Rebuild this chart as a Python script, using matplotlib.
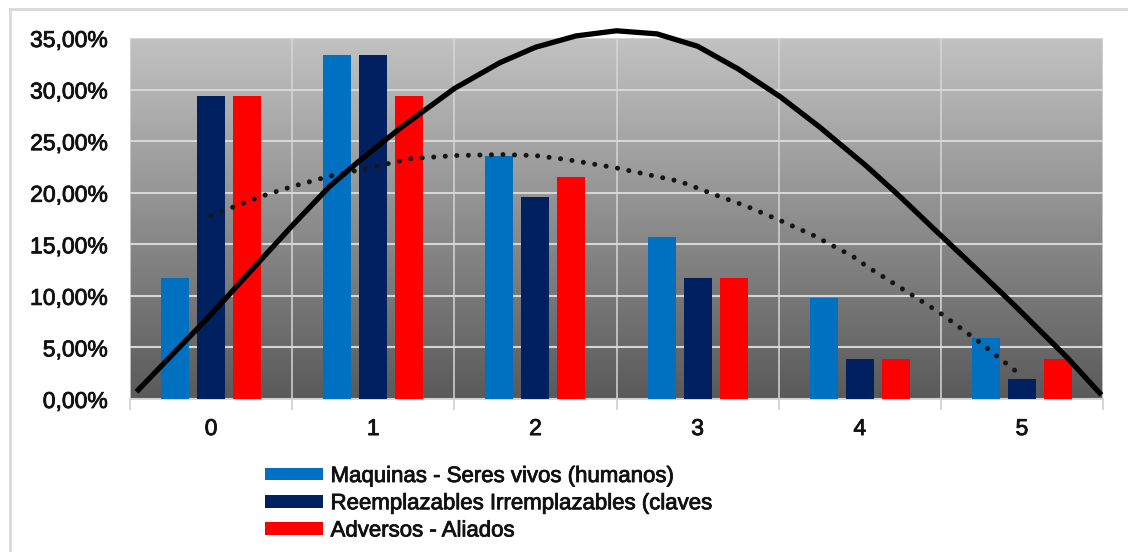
import numpy as np
import matplotlib.pyplot as plt
import matplotlib.patheffects as pe
from matplotlib.lines import Line2D
from matplotlib.colors import LinearSegmentedColormap
from matplotlib.ticker import FuncFormatter, FixedLocator

plt.rcParams['font.family'] = ['Liberation Sans', 'DejaVu Sans']

# datos
categorias = [0, 1, 2, 3, 4, 5]
maquinas = [11.76, 33.33, 23.53, 15.69, 9.80, 5.88]
reemplazables = [29.41, 33.33, 19.61, 11.76, 3.92, 1.96]
adversos = [29.41, 29.41, 21.57, 11.76, 3.92, 3.92]
series_nombres = ["Maquinas - Seres vivos (humanos)",
                  "Reemplazables Irremplazables (claves",
                  "Adversos - Aliados"]
colores = ["#0070c0", "#002060", "#ff0000"]

# curva solida
curva_x = [-0.46, 0.0, 0.5, 0.73, 0.9, 1.17, 1.5, 1.78, 2.0, 2.25, 2.5,
           2.75, 3.0, 3.25, 3.51, 3.75, 4.04, 4.25, 4.45, 4.7, 4.94, 5.28, 5.49]
curva_y = [0.7, 8.2, 16.8, 20.6, 22.9, 26.3, 30.1, 32.6, 34.1, 35.2, 35.7,
           35.4, 34.2, 32.0, 29.3, 26.4, 22.6, 19.6, 16.6, 12.9, 9.3, 4.0, 0.4]

# linea de tendencia punteada
tend_x = [0.0, 0.32, 0.5, 0.73, 1.0, 1.23, 1.5, 1.8, 2.0, 2.2, 2.5, 2.89,
          3.09, 3.3, 3.51, 3.71, 3.96, 4.04, 4.49, 4.74, 4.97]
tend_y = [17.8, 19.7, 20.6, 21.6, 22.5, 23.3, 23.6, 23.7, 23.6, 23.2, 22.4,
          21.1, 19.9, 18.7, 17.3, 15.9, 13.8, 12.9, 8.4, 5.5, 2.6]

W, H = 1128, 552
fig = plt.figure(figsize=(W / 100, H / 100), dpi=100)
fig.patch.set_facecolor("white")
ax = fig.add_axes([130 / W, 1 - 399 / H, (1103 - 130) / W, (399 - 38) / H])

# fondo degradado
grad = np.linspace(0, 1, 256).reshape(-1, 1)
ax.imshow(grad, extent=[-0.5, 5.5, 0, 35], aspect='auto', origin='upper',
          cmap=LinearSegmentedColormap.from_list("g", ["#c2c2c2", "#5a5a5a"]), zorder=0)

x = np.array(categorias)
ancho = 0.173
desp = 0.222
for i, (vals, c, nom) in enumerate(zip([maquinas, reemplazables, adversos], colores, series_nombres)):
    ax.bar(x + (i - 1) * desp, vals, width=ancho, color=c, label=nom, zorder=3)

ax.plot(curva_x, curva_y, color="black", lw=3.8, solid_capstyle='butt',
        solid_joinstyle='round', zorder=5, clip_on=False)
ax.plot(tend_x, tend_y, color="#151515", lw=3.6, linestyle=(0, (0.01, 2.3)),
        dash_capstyle='round', zorder=4)

ax.set_xlim(-0.5, 5.5)
ax.set_ylim(0, 35)
ax.set_yticks(np.arange(0, 36, 5))
ax.yaxis.set_major_formatter(FuncFormatter(lambda v, p: f"{v:.2f}%".replace(".", ",")))
ax.set_xticks(categorias)
ax.xaxis.set_minor_locator(FixedLocator(np.arange(-0.5, 6, 1)))

ax.grid(axis='y', which='major', color="#d6d6d6", lw=1.5, zorder=1)
ax.grid(axis='x', which='minor', color="#d6d6d6", lw=1.1, zorder=1)
ax.set_axisbelow(True)

ax.tick_params(axis='y', length=0, pad=16, labelsize=16.5, labelcolor="#111111")
ax.tick_params(axis='x', which='major', length=0, pad=13, labelsize=16.5, labelcolor="#111111")
ax.tick_params(axis='x', which='minor', length=8, width=1.2, color="#d0d0d0")

trazo = [pe.withStroke(linewidth=0.6, foreground="#111111")]
for t in ax.get_xticklabels() + ax.get_yticklabels():
    t.set_path_effects(trazo)

for s in ["top", "right", "left"]:
    ax.spines[s].set_visible(False)
ax.spines["bottom"].set_color("#d0d0d0")
ax.spines["bottom"].set_linewidth(1.2)

leg = fig.legend(loc="upper left", bbox_to_anchor=(265 / W, 1 - 466 / H), frameon=False,
                 fontsize=16, handlelength=2.6, handleheight=0.5, handletextpad=0.35,
                 labelspacing=0.28, borderpad=0, borderaxespad=0)
for t in leg.get_texts():
    t.set_color("#111111")
    t.set_path_effects(trazo)

# marco
fig.add_artist(Line2D([10 / W, 1], [1 - 9 / H, 1 - 9 / H], color="#d9d9d9", lw=2))
fig.add_artist(Line2D([10 / W, 10 / W], [0, 1 - 9 / H], color="#d9d9d9", lw=2))

fig.savefig("out.png", dpi=100)
